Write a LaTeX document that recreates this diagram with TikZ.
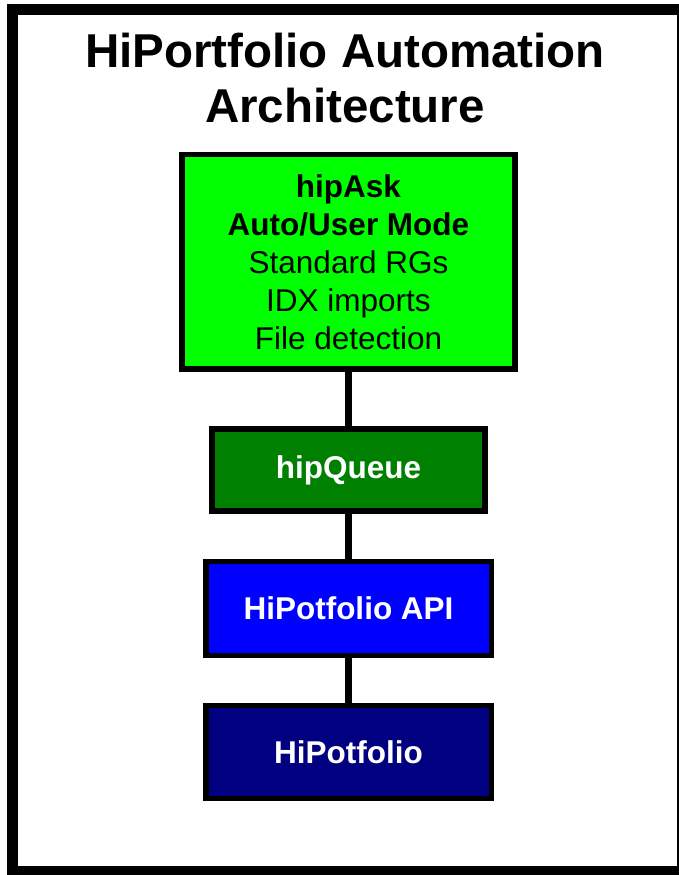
\documentclass[tikz,border=0pt]{standalone}
\usepackage{fontspec}
\setmainfont{Liberation Sans}
\definecolor{askgreen}{RGB}{0,255,0}
\definecolor{queuegreen}{RGB}{0,128,0}
\definecolor{apiblue}{RGB}{0,0,255}
\definecolor{hipnavy}{RGB}{0,0,128}
\tikzset{
	box/.style={draw,rectangle,line width=5.5pt,align=center,inner sep=0pt,font=\fontsize{31.5}{38}\selectfont},
	whitebox/.style={box,text=white,font=\bfseries\fontsize{31.5}{38}\selectfont},
	link/.style={line width=7pt}
}
\begin{document}
\begin{tikzpicture}[x=1pt,y=-1pt]
	\useasboundingbox (0,0) rectangle (679,875);
	\draw [line width=11pt] (12.5,10) rectangle (682.5,871.5);
	\node (title) [align=center,font=\bfseries\fontsize{47.5}{55}\selectfont] at (345,78) {HiPortfolio Automation\\Architecture};
	\node (ask) [box,fill=askgreen,minimum width=333pt,minimum height=214.5pt] at (348.5,261.75) {\textbf{hipAsk}\\\textbf{Auto/User Mode}\\Standard RGs\\IDX imports\\File detection};
	\node (queue) [whitebox,fill=queuegreen,minimum width=273pt,minimum height=82pt] at (348.5,470) {hipQueue};
	\node (api) [whitebox,fill=apiblue,minimum width=285.5pt,minimum height=94pt] at (348.5,608.5) {HiPotfolio API};
	\node (hip) [whitebox,fill=hipnavy,minimum width=285.5pt,minimum height=93pt] at (348.5,752) {HiPotfolio};
	\draw [link] (ask) edge (queue);
	\draw [link] (queue) edge (api);
	\draw [link] (api) edge (hip);
\end{tikzpicture}
\end{document}
